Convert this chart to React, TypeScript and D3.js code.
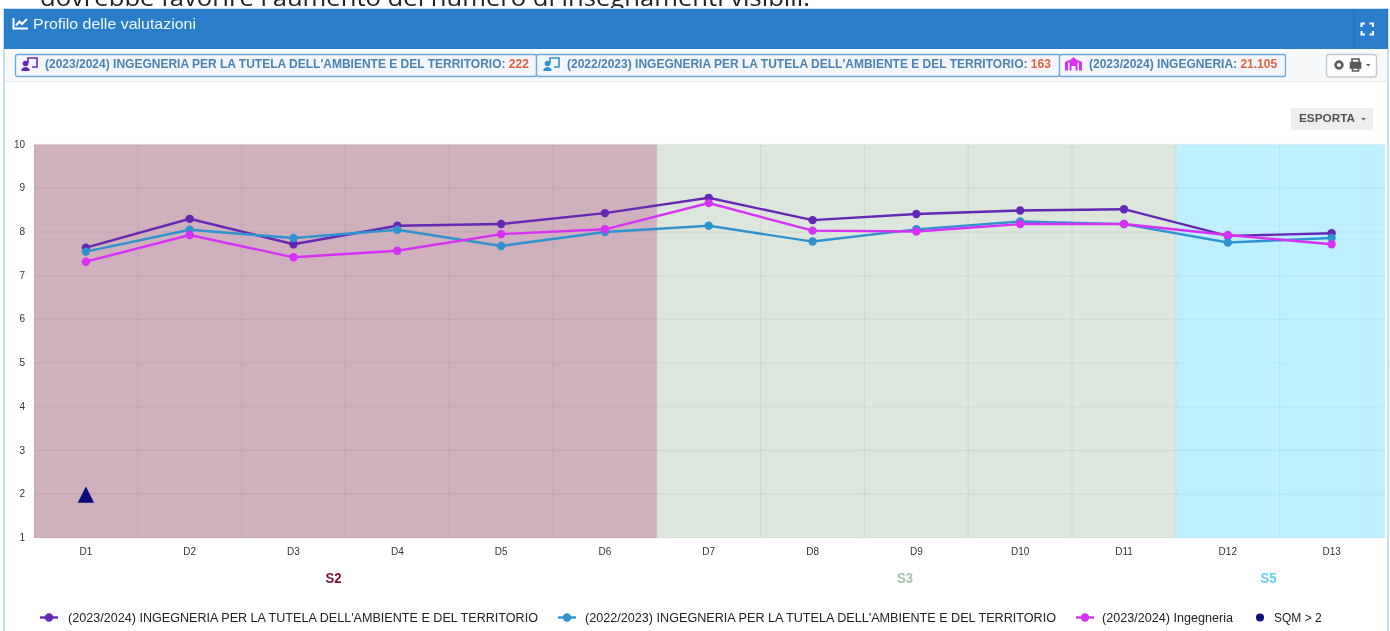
import React from "react";
import * as d3 from "d3";

const categories = ["D1","D2","D3","D4","D5","D6","D7","D8","D9","D10","D11","D12","D13"];
const yTicks = [1,2,3,4,5,6,7,8,9,10];
const seriesA = [7.64,8.30,7.72,8.14,8.18,8.43,8.78,8.27,8.41,8.49,8.52,7.91,7.97];
const seriesB = [7.55,8.05,7.86,8.05,7.68,8.00,8.14,7.78,8.06,8.24,8.18,7.76,7.86];
const seriesC = [7.32,7.93,7.42,7.57,7.95,8.06,8.66,8.03,8.01,8.18,8.18,7.93,7.72];
const sqmPoints = [{ cat: "D1", value: 2 }];
const sections = [
  { name: "S2", from: "D1", to: "D6", fill: "#cfb0bd", label: "#7b0f3c", lx: 333.5 },
  { name: "S3", from: "D7", to: "D11", fill: "#dce6dc", label: "#a3c4ae", lx: 905 },
  { name: "S5", from: "D12", to: "D13", fill: "#c0f0ff", label: "#5fd4f2", lx: 1268.5 },
];
const legendItems = [
  { label: "(2023/2024) INGEGNERIA PER LA TUTELA DELL'AMBIENTE E DEL TERRITORIO", color: "#6527b5", mx: 49, tx: 68, tw: 470 },
  { label: "(2022/2023) INGEGNERIA PER LA TUTELA DELL'AMBIENTE E DEL TERRITORIO", color: "#2f93cf", mx: 567, tx: 585, tw: 471 },
  { label: "(2023/2024) Ingegneria", color: "#d631f5", mx: 1085, tx: 1102, tw: 131 },
];
const badges = [
  { text: "(2023/2024) INGEGNERIA PER LA TUTELA DELL'AMBIENTE E DEL TERRITORIO: ", value: "222", x0: 15, x1: 536, tx: 45, icon: "#6527b5", kind: "person" },
  { text: "(2022/2023) INGEGNERIA PER LA TUTELA DELL'AMBIENTE E DEL TERRITORIO: ", value: "163", x0: 536, x1: 1059, tx: 567, icon: "#2f93cf", kind: "person" },
  { text: "(2023/2024) INGEGNERIA: ", value: "21.105", x0: 1059, x1: 1285, tx: 1089, icon: "#d631f5", kind: "building" },
];

const sans = "'Liberation Sans', Arial, sans-serif";

export default function App() {
  const x = d3.scaleBand<string>().domain(categories).range([34, 1383.5]);
  const y = d3.scaleLinear().domain([1, 10]).range([538, 144.5]);
  const cx = (c: string) => (x(c) as number) + x.bandwidth() / 2;
  const line = d3.line<number>().x((_, i) => cx(categories[i])).y((v) => y(v));
  const series = [
    { values: seriesA, color: legendItems[0].color },
    { values: seriesB, color: legendItems[1].color },
    { values: seriesC, color: legendItems[2].color },
  ];
  return (
    <svg width={1390} height={631} viewBox="0 0 1390 631"
      style={{ position: "absolute", left: 0, top: 0, display: "block", background: "#fff", filter: "blur(0.55px)" }}
      fontFamily={sans}>
      <defs>
        <clipPath id="top"><rect x={0} y={0} width={1390} height={8} /></clipPath>
      </defs>
      <text x={40} y={6} fontSize={24} fontFamily="'Open Sans', sans-serif" fill="#222" clipPath="url(#top)"
        textLength={770} lengthAdjust="spacingAndGlyphs">
        dovrebbe favorire l'aumento del numero di insegnamenti visibili.
      </text>

      <rect x={4} y={9} width={1384} height={640} fill="#fff" stroke="#b5d3ec" strokeWidth={1.5} />
      <rect x={4} y={9} width={1384} height={40} fill="#2a7dc9" />
      <rect x={5} y={49} width={1382} height={33} fill="#f6f8fa" />
      <line x1={5} x2={1387} y1={81.5} y2={81.5} stroke="#e4e9ee" />

      <g stroke="#fff" strokeWidth={2} fill="none">
        <path d="M13.5 18 V28.5 H28" />
        <path d="M16 25.5 L19.5 21.5 L22 24 L27 19" />
      </g>
      <text x={33} y={29} fontSize={14.5} fill="#f2f7fc" textLength={163} lengthAdjust="spacingAndGlyphs">Profilo delle valutazioni</text>
      <line x1={1354} x2={1354} y1={9} y2={49} stroke="#2671b6" />
      <path d="M1361.5 27 V23.5 H1365 M1369.5 23.5 H1373 V27 M1373 31 V34.5 H1369.5 M1365 34.5 H1361.5 V31" fill="none" stroke="#fff" strokeWidth={2} />

      {badges.map((b) => (
        <g key={b.x0}>
          <rect x={b.x0 + 0.5} y={54.5} width={b.x1 - b.x0} height={22} rx={2} fill="#f2f6fa" stroke="#6fa8d8" strokeWidth={1.3} />
          {b.kind === "person" ? (
            <g>
              <path d={`M${b.tx - 17} 63 V58 H${b.tx - 8} V67 H${b.tx - 13}`} fill="none" stroke={b.icon} strokeWidth={1.6} />
              <circle cx={b.tx - 19.5} cy={63.5} r={2.8} fill={b.icon} />
              <path d={`M${b.tx - 23.5} 71 V69 Q${b.tx - 19.5} 65 ${b.tx - 15.5} 69 V71 Z`} fill={b.icon} />
            </g>
          ) : (
            <path d={`M${b.tx - 24} 70.5 V62 L${b.tx - 21} 60.5 L${b.tx - 19} 60 L${b.tx - 15.5} 57 L${b.tx - 12} 60 L${b.tx - 10} 60.5 L${b.tx - 7} 62 V70.5 H${b.tx - 10} V62.5 H${b.tx - 11.5} V70.5 H${b.tx - 13.5} V66 H${b.tx - 17.5} V70.5 H${b.tx - 19.5} V62.5 H${b.tx - 21} V70.5 Z`} fill={b.icon} />
          )}
          <text x={b.tx} y={67.5} fontSize={12} fontWeight={700} fill="#4a82b3">
            {b.text}<tspan fill="#e0603f">{b.value}</tspan>
          </text>
        </g>
      ))}

      <rect x={1326.5} y={54.5} width={50} height={22.5} rx={3} fill="#fff" stroke="#c1c8ce" strokeWidth={1.4} />
      <circle cx={1339} cy={65} r={3.4} fill="none" stroke="#5a5a5a" strokeWidth={2.6} />
      <g fill="none" stroke="#5a5a5a" strokeWidth={1.6}>
        <path d="M1352 62 V59 H1359 V62" />
        <path d="M1350.5 62.5 H1360.5 V68 H1350.5 Z" fill="#5a5a5a" />
        <path d="M1352.5 68 V71 H1358.5 V68" />
      </g>
      <path d="M1366 64 L1370.5 64 L1368.2 66.5 Z" fill="#5a5a5a" />

      <rect x={1291} y={108} width={82} height={22} rx={2} fill="#eceef0" />
      <text x={1299} y={122} fontSize={11} fontWeight={700} fill="#555" textLength={56} lengthAdjust="spacingAndGlyphs">ESPORTA</text>
      <path d="M1361 118 L1366 118 L1363.5 120.5 Z" fill="#666" />

      {sections.map((s, i) => {
        const x0 = x(s.from) as number;
        const x1 = i === sections.length - 1 ? 1385 : (x(s.to) as number) + x.bandwidth();
        return (
          <g key={s.name}>
            <rect x={x0} y={y(10)} width={x1 - x0} height={y(1) - y(10)} fill={s.fill} />
            <text x={s.lx} y={583} textAnchor="middle" fontSize={14} fontWeight={700} fill={s.label}
              textLength={16} lengthAdjust="spacingAndGlyphs">{s.name}</text>
          </g>
        );
      })}

      {yTicks.map((t) => (
        <g key={t}>
          <line x1={34} x2={1385} y1={y(t)} y2={y(t)} stroke="#000" strokeOpacity={0.035} strokeWidth={1.4} />
          <text x={25} y={y(t) + 3} textAnchor="end" fontSize={10} fill="#333">{t}</text>
        </g>
      ))}
      {categories.map((c) => (
        <g key={c}>
          <line x1={x(c) as number} x2={x(c) as number} y1={y(10)} y2={y(1)} stroke="#000" strokeOpacity={0.05} strokeWidth={1.2} />
          <text x={cx(c)} y={555} textAnchor="middle" fontSize={10} fill="#333">{c}</text>
        </g>
      ))}

      {series.map((s) => (
        <g key={s.color}>
          <path d={line(s.values) as string} fill="none" stroke={s.color} strokeWidth={2.4} />
          {s.values.map((v, i) => (
            <circle key={i} cx={cx(categories[i])} cy={y(v)} r={4.2} fill={s.color} />
          ))}
        </g>
      ))}

      {sqmPoints.map((p) => {
        const px = cx(p.cat);
        const py = y(p.value);
        return <path key={p.cat} d={`${d3.symbol(d3.symbolTriangle, 150)()}`} transform={`translate(${px},${py + 3}) scale(0.88,1)`} fill="#0b0b78" />;
      })}

      {legendItems.map((l) => (
        <g key={l.label}>
          <line x1={l.mx - 9} x2={l.mx + 9} y1={617.5} y2={617.5} stroke={l.color} strokeWidth={2.4} />
          <circle cx={l.mx} cy={617.5} r={4.2} fill={l.color} />
          <text x={l.tx} y={622} fontSize={12} fill="#222" textLength={l.tw} lengthAdjust="spacingAndGlyphs">{l.label}</text>
        </g>
      ))}
      <circle cx={1260} cy={617.5} r={4} fill="#0b0b78" />
      <text x={1274} y={622} fontSize={12} fill="#222">SQM &gt; 2</text>
    </svg>
  );
}
